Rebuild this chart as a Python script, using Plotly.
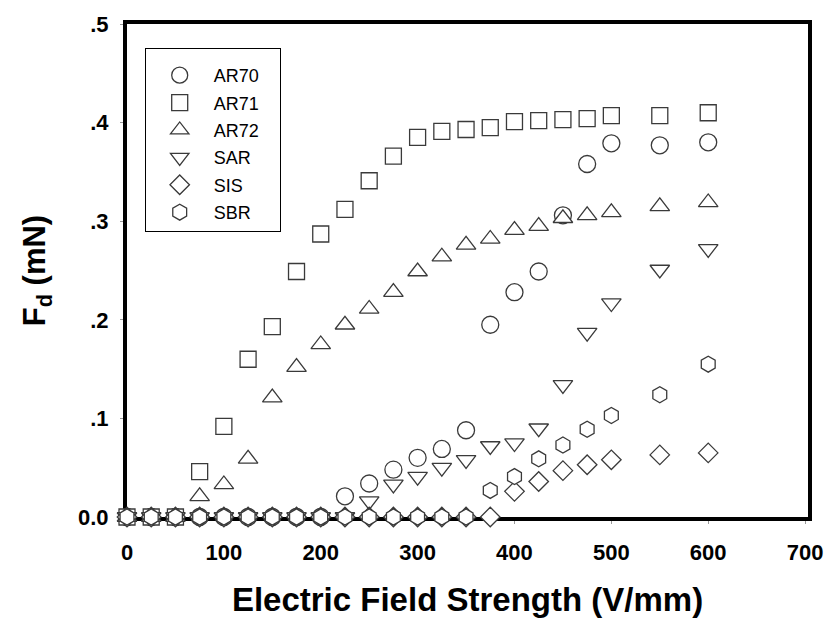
import plotly.graph_objects as go

# ---- data ----
field_levels = [0, 25, 50, 75, 100, 125, 150, 175, 200, 225, 250, 275, 300,
                325, 350, 375, 400, 425, 450, 475, 500, 550, 600]

ar70 = [0, 0, 0, 0, 0, 0, 0, 0, 0, 0.021, 0.034, 0.048, 0.060, 0.069, 0.088,
        0.195, 0.228, 0.249, 0.306, 0.358, 0.379, 0.377, 0.380]
ar71 = [0, 0, 0, 0.046, 0.092, 0.160, 0.193, 0.249, 0.287, 0.312, 0.341, 0.366,
        0.385, 0.391, 0.393, 0.395, 0.401, 0.402, 0.403, 0.404, 0.407, 0.407, 0.410]
ar72 = [0, 0, 0, 0.021, 0.033, 0.059, 0.121, 0.152, 0.175, 0.195, 0.211, 0.228,
        0.249, 0.264, 0.276, 0.282, 0.291, 0.295, 0.303, 0.306, 0.309, 0.315, 0.319]
sar = [0, 0, 0, 0, 0, 0, 0, 0, 0, 0, 0.016, 0.033, 0.041, 0.050, 0.058, 0.072,
       0.075, 0.090, 0.134, 0.187, 0.217, 0.251, 0.272]
sis = [0, 0, 0, 0, 0, 0, 0, 0, 0, 0, 0, 0, 0, 0, 0, 0, 0.026, 0.036, 0.047,
       0.053, 0.058, 0.063, 0.065]
sbr = [0, 0, 0, 0, 0, 0, 0, 0, 0, 0, 0, 0, 0, 0, 0, 0.027, 0.041, 0.059, 0.073,
       0.089, 0.103, 0.124, 0.155]

series_names = ["AR70", "AR71", "AR72", "SAR", "SIS", "SBR"]
series_values = [ar70, ar71, ar72, sar, sis, sbr]
series_symbols = ["circle", "square", "triangle-up", "triangle-down", "diamond", "hexagon"]
series_sizes = [17, 16, 17, 17, 15, 16]

x_ticks = [0, 100, 200, 300, 400, 500, 600, 700]
y_ticks = [0, 0.1, 0.2, 0.3, 0.4, 0.5]
y_tick_labels = ["0.0", ".1", ".2", ".3", ".4", ".5"]

FONT = "Liberation Sans, Arial, sans-serif"
MARK = "#3a3a3a"
PAD = "\u00a0\u00a0\u00a0"

fig = go.Figure()
for name, vals, sym, sz in zip(series_names, series_values, series_symbols, series_sizes):
    fig.add_trace(go.Scatter(
        x=field_levels, y=vals, mode="markers", name=name + PAD, legendgroup=name,
        cliponaxis=False,
        marker=dict(symbol=sym, size=sz, color="white",
                    line=dict(color=MARK, width=1.3)),
    ))

axis_common = dict(showline=True, linecolor="black", linewidth=4, mirror=True,
                   showgrid=False, zeroline=False, layer="below traces",
                   ticks="outside", ticklen=3, tickwidth=1, tickcolor="#999",
                   tickfont=dict(family=FONT, size=22, color="black", weight="bold"))

fig.update_layout(
    width=834, height=627,
    margin=dict(l=127, r=26, t=24, b=110),
    paper_bgcolor="white", plot_bgcolor="white",
    xaxis=dict(range=[0, 703], tickvals=x_ticks, ticklabelstandoff=10,
               title=dict(text="Electric Field Strength (V/mm)", standoff=24,
                          font=dict(family=FONT, size=33, color="black", weight="bold")),
               **axis_common),
    yaxis=dict(range=[0, 0.5], tickvals=y_ticks, ticktext=y_tick_labels,
               ticklabelstandoff=7,
               title=dict(text="F<sub>d</sub> (mN)", standoff=24,
                          font=dict(family=FONT, size=31, color="black", weight="bold")),
               **axis_common),
    legend=dict(x=0.026, y=0.951, xanchor="left", yanchor="top",
                bordercolor="black", borderwidth=1, bgcolor="white",
                font=dict(family=FONT, size=18, color="black"),
                title=dict(text="\u00a0", font=dict(size=6)),
                tracegroupgap=1, itemwidth=58),
    showlegend=True,
)

fig.write_html("out.html")
